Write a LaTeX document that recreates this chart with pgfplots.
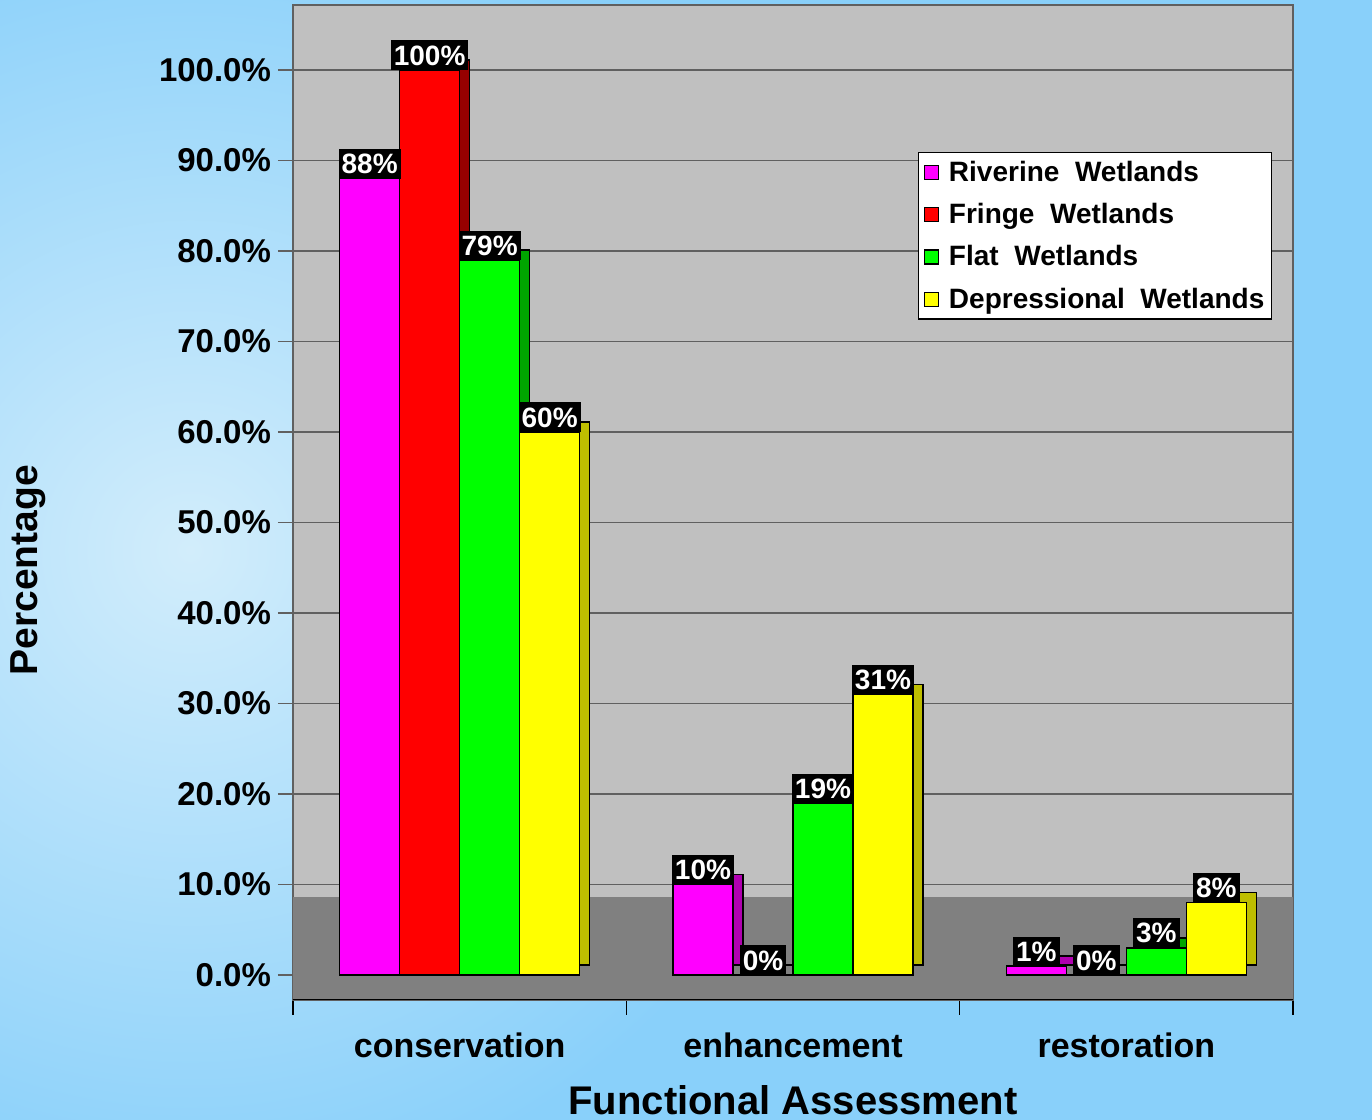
\documentclass[border=0pt]{standalone}
\usepackage{pgfplots}
\usepackage{pgfplotstable}
\pgfplotsset{compat=1.18}
\usepackage{fontspec}
\setmainfont{Liberation Sans}

\definecolor{skyout}{RGB}{137,208,250}
\definecolor{skyin}{RGB}{210,237,251}
\definecolor{wall}{RGB}{192,192,192}
\definecolor{floorgray}{RGB}{128,128,128}
\definecolor{gridgray}{RGB}{96,96,96}
\definecolor{riv}{RGB}{255,0,255}
\definecolor{rivd}{RGB}{176,0,176}
\definecolor{fri}{RGB}{255,0,0}
\definecolor{frid}{RGB}{150,0,0}
\definecolor{fla}{RGB}{0,255,0}
\definecolor{flad}{RGB}{0,165,0}
\definecolor{dep}{RGB}{255,255,0}
\definecolor{depd}{RGB}{190,190,0}

% share of sites (%) per functional assessment class
\pgfplotstableread{
cat riv fri fla dep
0   88  100 79  60
1   10  0   19  31
2   1   0   3   8
}\wetlands

\pgfplotsset{
  sq legend/.style={legend image code/.code={%
    \path (0pt,0pt) (11pt,0pt);
    \draw[##1,draw=black,line width=0.6pt] (1pt,-3.5pt) rectangle (8pt,3.5pt);}},
  side bar/.style 2 args={ybar, bar width=30pt, bar shift=#1, fill=#2,
    draw=black, line width=0.7pt, xshift=5pt, yshift=5pt, forget plot},
  front bar/.style 2 args={ybar, bar width=30pt, bar shift=#1, fill=#2,
    draw=black, line width=0.7pt, sq legend,
    point meta=y,
    nodes near coords={\pgfmathprintnumber[fixed,precision=0]{\pgfplotspointmeta}\%},
    every node near coord/.append style={fill=black, text=white,
      font=\fontsize{14}{16}\selectfont\bfseries,
      inner xsep=1.5pt, inner ysep=2.5pt, anchor=south,
      xshift=#1, yshift=-0.5pt}},
}

\begin{document}
\begin{tikzpicture}[x=1pt,y=1pt]
\useasboundingbox (0,0) rectangle (686,560);
\begin{scope}
  \clip (0,0) rectangle (686,560);
  \fill[skyout] (0,0) rectangle (686,560);
  \shade[inner color=skyin, outer color=skyout] (95,285) circle (330);
\end{scope}
\begin{axis}[
  at={(146.5pt,60pt)}, anchor=south west,
  scale only axis, width=500pt, height=497.5pt,
  xmin=-0.5, xmax=2.5, ymin=-2.76, ymax=107.18,
  /pgf/number format/assume math mode=true,
  axis background/.style={fill=wall},
  axis line style={draw=gridgray, line width=0.8pt},
  tick pos=left, tick align=outside,
  xtick={-0.5,0.5,1.5,2.5}, xticklabels={},
  x tick style={draw=black, line width=0.8pt},
  major tick length=7.5pt,
  extra x ticks={0,1,2},
  extra x tick labels={conservation,enhancement,restoration},
  extra x tick style={major tick length=0pt,
    tick label style={font=\fontsize{17}{19}\selectfont\bfseries, yshift=-13pt}},
  ytick={0,10,...,100},
  yticklabel={\pgfmathprintnumber[fixed,fixed zerofill,precision=1]{\tick}\%},
  y tick label style={font=\fontsize{16.5}{18}\selectfont\bfseries},
  y tick style={draw=gridgray, line width=0.8pt},
  ymajorgrids, major grid style={draw=gridgray, line width=0.8pt},
  xlabel={Functional Assessment},
  every axis x label/.style={at={(axis description cs:0.5,-0.1005)}, anchor=center,
    font=\fontsize{20}{22}\selectfont\bfseries},
  ylabel={Percentage},
  every axis y label/.style={at={(axis description cs:-0.265,0.432)}, anchor=center,
    rotate=90, font=\fontsize{19.5}{22}\selectfont\bfseries},
  legend style={at={(0.625,0.852)}, anchor=north west, draw=black, fill=white,
    line width=0.6pt, font=\fontsize{14}{16}\selectfont\bfseries,
    row sep=5.5pt, inner xsep=1.5pt, inner ysep=2pt},
  legend cell align=left,
]
% floor of the chart area
\fill[floorgray] (axis cs:-0.5,-2.76) rectangle (axis cs:2.5,8.62);

\addplot[side bar={-45pt}{rivd}] table[x=cat,y=riv]{\wetlands};
\addplot[front bar={-45pt}{riv}] table[x=cat,y=riv]{\wetlands};
\addlegendentry{Riverine \ Wetlands}

\addplot[side bar={-15pt}{frid}] table[x=cat,y=fri]{\wetlands};
\addplot[front bar={-15pt}{fri}] table[x=cat,y=fri]{\wetlands};
\addlegendentry{Fringe \ Wetlands}

\addplot[side bar={15pt}{flad}] table[x=cat,y=fla]{\wetlands};
\addplot[front bar={15pt}{fla}] table[x=cat,y=fla]{\wetlands};
\addlegendentry{Flat \ Wetlands}

\addplot[side bar={45pt}{depd}] table[x=cat,y=dep]{\wetlands};
\addplot[front bar={45pt}{dep}] table[x=cat,y=dep]{\wetlands};
\addlegendentry{Depressional \ Wetlands}

\draw[black, line width=1pt] (rel axis cs:0,0) -- (rel axis cs:1,0);
\end{axis}
\end{tikzpicture}
\end{document}
